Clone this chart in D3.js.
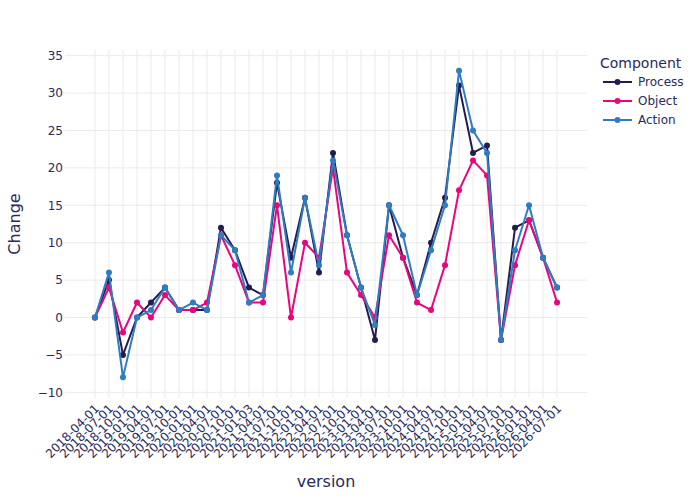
<!DOCTYPE html>
<html lang="en">
<head>
    <meta charset="utf-8">
    <script src="https://d3js.org/d3.v7.min.js"></script>
</head>
<style>
    body { margin: 0; background: #fff; }
    text { font-family: "DejaVu Sans", sans-serif; fill: #2a2a5c; }
</style>
<body>
<script>
    const w = 700
    const h = 500

    // categories (x axis)
    const versions = ["2018-04-01","2018-07-01","2018-10-01","2019-01-01","2019-04-01","2019-07-01",
        "2019-10-01","2020-01-01","2020-04-01","2020-07-01","2020-10-01","2021-01-03","2021-04-01",
        "2021-07-01","2021-10-01","2022-01-01","2022-04-01","2022-07-01","2022-10-01","2023-01-01",
        "2023-04-01","2023-07-01","2023-10-01","2024-01-01","2024-04-01","2024-07-01","2024-10-01",
        "2025-01-01","2025-04-01","2025-07-01","2025-10-01","2026-01-01","2026-04-01","2026-07-01"]

    // series values
    const processVals = [0,5,-5,0,2,4,1,1,1,12,9,4,3,18,8,16,6,22,11,4,-3,15,8,3,10,16,31,22,23,-3,12,13,8,4]
    const objectVals  = [0,4,-2,2,0,3,1,1,2,11,7,2,2,15,0,10,8,20,6,3,0,11,8,2,1,7,17,21,19,-3,7,13,8,2]
    const actionVals  = [0,6,-8,0,1,4,1,2,1,11,9,2,3,19,6,16,7,21,11,4,-1,15,11,3,9,15,33,25,22,-3,9,15,8,4]

    const seriesNames = ["Process", "Object", "Action"]
    const colors = ["#231c4f", "#e8057e", "#2f7cc2"]
    const yTicks = [-10, -5, 0, 5, 10, 15, 20, 25, 30, 35]

    const series = seriesNames.map((name, i) => ({
        name: name,
        values: [processVals, objectVals, actionVals][i],
        color: colors[i]
    }))

    // plot area
    const plotL = 65, plotR = 587, plotT = 50, plotB = 398

    const svg = d3.select("body")
        .append("svg")
        .attr("width", w)
        .attr("height", h)

    const pad = 2.14
    const xScale = d3.scaleLinear()
        .domain([-pad, versions.length - 1 + pad])
        .range([plotL, plotR])
    const x = d => xScale(versions.indexOf(d))

    const yScale = d3.scaleLinear()
        .domain([-10.76, 35.76])
        .range([plotB, plotT])

    // grid
    svg.append("g")
        .selectAll("line")
        .data(versions)
        .enter()
        .append("line")
        .attr("x1", x).attr("x2", x)
        .attr("y1", plotT).attr("y2", plotB)
        .attr("stroke", "#ebebeb")
        .attr("stroke-width", 1)

    svg.append("g")
        .selectAll("line")
        .data(yTicks)
        .enter()
        .append("line")
        .attr("x1", plotL).attr("x2", plotR)
        .attr("y1", d => yScale(d)).attr("y2", d => yScale(d))
        .attr("stroke", "#ebebeb")
        .attr("stroke-width", 1)

    // y tick labels
    const yAxis = d3.axisLeft(yScale)
        .tickValues(yTicks)
        .tickSize(0)
        .tickPadding(2)
    svg.append("g")
        .attr("transform", `translate(${plotL},0)`)
        .call(yAxis)
        .call(g => g.select(".domain").remove())
        .selectAll("text")
        .style("font-size", "12px")
        .style("font-family", "'DejaVu Sans', sans-serif")
        .attr("fill", "#2a2a5c")

    // x tick labels, rotated
    const xAxis = d3.axisBottom(xScale)
        .tickValues(d3.range(versions.length))
        .tickFormat(i => versions[i])
        .tickSize(0)
    svg.append("g")
        .attr("transform", `translate(0,${plotB + 4})`)
        .call(xAxis)
        .call(g => g.select(".domain").remove())
        .selectAll("text")
        .style("font-size", "12px")
        .style("font-family", "'DejaVu Sans', sans-serif")
        .attr("fill", "#2a2a5c")
        .attr("text-anchor", "end")
        .attr("dy", "0.7em")
        .attr("y", 0)
        .attr("transform", "rotate(-45) translate(-2,0)")

    // lines and markers
    const line = d3.line()
        .x((d, i) => xScale(i))
        .y(d => yScale(d))

    series.forEach(s => {
        const g = svg.append("g")
        g.append("path")
            .datum(s.values)
            .attr("d", line)
            .attr("fill", "none")
            .attr("stroke", s.color)
            .attr("stroke-width", 2)
            .attr("stroke-linejoin", "round")
        g.selectAll("circle")
            .data(s.values)
            .enter()
            .append("circle")
            .attr("cx", (d, i) => xScale(i))
            .attr("cy", d => yScale(d))
            .attr("r", 3)
            .attr("fill", s.color)
    })

    // axis titles
    svg.append("text")
        .attr("x", (plotL + plotR) / 2)
        .attr("y", 487)
        .attr("text-anchor", "middle")
        .style("font-size", "16px")
        .text("version")

    svg.append("text")
        .attr("transform", `translate(20,${(plotT + plotB) / 2}) rotate(-90)`)
        .attr("text-anchor", "middle")
        .style("font-size", "16px")
        .text("Change")

    // legend
    const legend = svg.append("g").attr("transform", "translate(600,0)")
    legend.append("text")
        .attr("x", 0)
        .attr("y", 68)
        .style("font-size", "14px")
        .text("Component")

    const items = legend.selectAll("g.item")
        .data(series)
        .enter()
        .append("g")
        .attr("class", "item")
        .attr("transform", (d, i) => `translate(0,${82 + i * 19})`)
    items.append("line")
        .attr("x1", 3).attr("x2", 32)
        .attr("stroke", d => d.color)
        .attr("stroke-width", 2)
    items.append("circle")
        .attr("cx", 17.5)
        .attr("r", 3)
        .attr("fill", d => d.color)
    items.append("text")
        .attr("x", 38)
        .attr("dy", "0.35em")
        .style("font-size", "12px")
        .text(d => d.name)
</script>
</body>
</html>
